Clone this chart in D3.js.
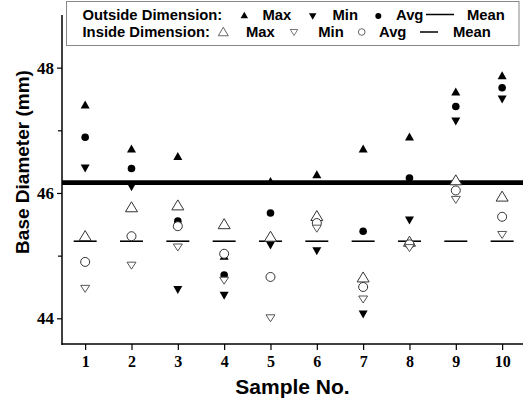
<!DOCTYPE html>
<html>
<head>
<meta charset="utf-8">
<script src="https://cdn.jsdelivr.net/npm/d3@7"></script>
<style>
  html, body { margin: 0; padding: 0; background: #fff; }
  svg { display: block; }
</style>
</head>
<body>
<svg id="chart" width="523" height="402"></svg>
<script>
// Sample numbers along the x axis
const samples = [1, 2, 3, 4, 5, 6, 7, 8, 9, 10];

// Outside dimension (mm)
const outsideMax = [47.41, 46.71, 46.59, 45.00, 46.19, 46.30, 46.71, 46.90, 47.62, 47.88];
const outsideMin = [46.39, 46.09, 44.45, 44.36, 45.16, 45.07, 44.06, 45.56, 47.14, 47.49];
const outsideAvg = [46.89, 46.39, 45.55, 44.69, 45.68, 45.52, 45.39, 46.24, 47.38, 47.68];
const outsideMean = 46.165;

// Inside dimension (mm)
const insideMax = [45.32, 45.78, 45.81, 45.51, 45.31, 45.64, 44.66, 45.23, 46.21, 45.95];
const insideMin = [44.47, 44.84, 45.13, 44.60, 44.00, 45.43, 44.30, 45.12, 45.89, 45.33];
const insideAvg = [44.90, 45.31, 45.47, 45.03, 44.66, 45.52, 44.50, 45.18, 46.04, 45.62];
const insideMean = 45.23;

// Axis ticks
const yMajorTicks = [44, 46, 48];
const yMinorTicks = [45, 47];

const svg = d3.select("#chart");

const x = d3.scaleLinear().domain([0.5, 10.5]).range([62, 525.3]);
const y = d3.scaleLinear().domain([43.59, 48.84]).range([344, 15]);

// Triangle path centred on (0,0): w = base width, h = height, dir = 1 up / -1 down
function tri(w, h, dir) {
  const t = -dir * h / 2, b = dir * h / 2;
  return `M0,${t}L${w / 2},${b}L${-w / 2},${b}Z`;
}

const serif = "'Liberation Serif', 'Times New Roman', serif";
const sans = "'Liberation Sans', Arial, sans-serif";

// ---- Axes ----
const yAxis = d3.axisLeft(y).tickValues(yMajorTicks).tickSize(5).tickPadding(3).tickFormat(d3.format("d"));
const gy = svg.append("g").attr("transform", "translate(62,0)").call(yAxis);
gy.select(".domain").remove();
gy.selectAll(".tick line").attr("stroke", "#000").attr("stroke-width", 1.2);
gy.selectAll(".tick text")
  .attr("font-family", serif).attr("font-weight", "bold").attr("font-size", 17)
  .attr("fill", "#000");

const yMinor = d3.axisLeft(y).tickValues(yMinorTicks).tickSize(4).tickFormat("");
const gym = svg.append("g").attr("transform", "translate(62,0)").call(yMinor);
gym.select(".domain").remove();
gym.selectAll(".tick line").attr("stroke", "#000").attr("stroke-width", 1.2);

const xAxis = d3.axisBottom(x).tickValues(samples).tickSize(6).tickPadding(6).tickFormat(d3.format("d"));
const gx = svg.append("g").attr("transform", "translate(0,344)").call(xAxis);
gx.select(".domain").remove();
gx.selectAll(".tick line").attr("stroke", "#000").attr("stroke-width", 1.2);
gx.selectAll(".tick text")
  .attr("font-family", serif).attr("font-weight", "bold").attr("font-size", 16)
  .attr("fill", "#000");

// Axis lines (left and bottom only)
svg.append("line").attr("x1", 62).attr("x2", 62).attr("y1", y(48.84)).attr("y2", 344.7)
  .attr("stroke", "#000").attr("stroke-width", 1.5);
svg.append("line").attr("x1", 61.3).attr("x2", 523).attr("y1", 344).attr("y2", 344)
  .attr("stroke", "#000").attr("stroke-width", 1.5);

// Axis titles
svg.append("text")
  .attr("transform", `translate(29,162) rotate(-90)`)
  .attr("text-anchor", "middle")
  .attr("font-family", sans).attr("font-weight", "bold").attr("font-size", 19)
  .text("Base Diameter (mm)");

svg.append("text")
  .attr("x", 292.5).attr("y", 394)
  .attr("text-anchor", "middle")
  .attr("font-family", sans).attr("font-weight", "bold").attr("font-size", 21)
  .text("Sample No.");

// ---- Data marks ----
const plot = svg.append("g");

// Outside dimension: filled markers
plot.selectAll(".omax").data(samples).join("path")
  .attr("transform", (d, i) => `translate(${x(d)},${y(outsideMax[i])})`)
  .attr("d", tri(9, 8, 1)).attr("fill", "#000");
plot.selectAll(".omin").data(samples).join("path")
  .attr("transform", (d, i) => `translate(${x(d)},${y(outsideMin[i])})`)
  .attr("d", tri(9, 8, -1)).attr("fill", "#000");
plot.selectAll(".oavg").data(samples).join("circle")
  .attr("cx", d => x(d)).attr("cy", (d, i) => y(outsideAvg[i]))
  .attr("r", 3.8).attr("fill", "#000");

// Outside mean: thick line across the plot
plot.append("line")
  .attr("x1", 62).attr("x2", 523)
  .attr("y1", y(outsideMean)).attr("y2", y(outsideMean))
  .attr("stroke", "#000").attr("stroke-width", 4.8);

// Inside mean: short segment at each sample
plot.selectAll(".imean").data(samples).join("line")
  .attr("x1", d => x(d) - 11.5).attr("x2", d => x(d) + 11.5)
  .attr("y1", y(insideMean)).attr("y2", y(insideMean))
  .attr("stroke", "#000").attr("stroke-width", 1.6);

// Inside dimension: open markers
plot.selectAll(".imax").data(samples).join("path")
  .attr("transform", (d, i) => `translate(${x(d)},${y(insideMax[i])})`)
  .attr("d", tri(12, 10, 1)).attr("fill", "#fff").attr("stroke", "#333").attr("stroke-width", 1);
plot.selectAll(".iavg").data(samples).join("circle")
  .attr("cx", d => x(d)).attr("cy", (d, i) => y(insideAvg[i]))
  .attr("r", 4.5).attr("fill", "#fff").attr("stroke", "#333").attr("stroke-width", 1);
plot.selectAll(".imin").data(samples).join("path")
  .attr("transform", (d, i) => `translate(${x(d)},${y(insideMin[i])})`)
  .attr("d", tri(9, 7, -1)).attr("fill", "#fff").attr("stroke", "#555").attr("stroke-width", 1);

// ---- Legend ----
const lg = svg.append("g");
lg.append("rect").attr("x", 66.5).attr("y", 1.5).attr("width", 452.5).attr("height", 44)
  .attr("fill", "#fff").attr("stroke", "#888").attr("stroke-width", 1);

const lfont = t => t.attr("font-family", sans).attr("font-weight", "bold").attr("font-size", 14.8).attr("fill", "#000");
const r1 = 20.3, r2 = 36.5;

lg.append("text").attr("x", 82.5).attr("y", r1).text("Outside Dimension:").call(lfont);
lg.append("path").attr("transform", `translate(244.3,15)`).attr("d", tri(7.5, 6.5, 1)).attr("fill", "#000");
lg.append("text").attr("x", 262.5).attr("y", r1).text("Max").call(lfont);
lg.append("path").attr("transform", `translate(312.7,16.5)`).attr("d", tri(7.5, 6.5, -1)).attr("fill", "#000");
lg.append("text").attr("x", 332.5).attr("y", r1).text("Min").call(lfont);
lg.append("circle").attr("cx", 378.3).attr("cy", 16).attr("r", 3).attr("fill", "#000");
lg.append("text").attr("x", 396).attr("y", r1).text("Avg").call(lfont);
lg.append("line").attr("x1", 426).attr("x2", 454).attr("y1", 14.5).attr("y2", 14.5)
  .attr("stroke", "#000").attr("stroke-width", 1.5);
lg.append("text").attr("x", 467).attr("y", r1).text("Mean").call(lfont);

lg.append("text").attr("x", 82.5).attr("y", r2).text("Inside Dimension:").call(lfont);
lg.append("path").attr("transform", `translate(223.3,31.5)`).attr("d", tri(10, 8.5, 1))
  .attr("fill", "#fff").attr("stroke", "#555").attr("stroke-width", 0.9);
lg.append("text").attr("x", 246).attr("y", r2).text("Max").call(lfont);
lg.append("path").attr("transform", `translate(294,32.5)`).attr("d", tri(7.5, 6, -1))
  .attr("fill", "#fff").attr("stroke", "#666").attr("stroke-width", 0.9);
lg.append("text").attr("x", 318.3).attr("y", r2).text("Min").call(lfont);
lg.append("circle").attr("cx", 361.7).attr("cy", 32).attr("r", 3.3)
  .attr("fill", "#fff").attr("stroke", "#555").attr("stroke-width", 0.9);
lg.append("text").attr("x", 379).attr("y", r2).text("Avg").call(lfont);
lg.append("line").attr("x1", 420).attr("x2", 438).attr("y1", 32).attr("y2", 32)
  .attr("stroke", "#000").attr("stroke-width", 1.5);
lg.append("text").attr("x", 453).attr("y", r2).text("Mean").call(lfont);
</script>
</body>
</html>
